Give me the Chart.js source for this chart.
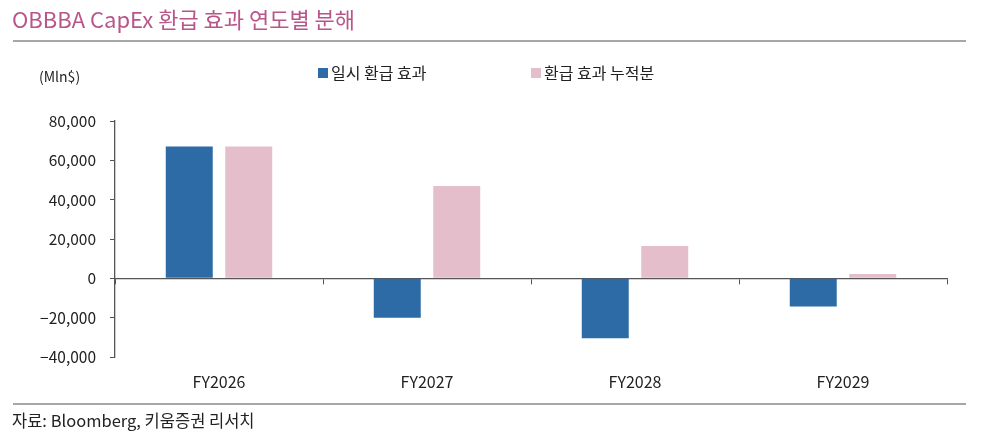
<!DOCTYPE html>
<html>
<head>
<meta charset="utf-8">
<script src="https://cdn.jsdelivr.net/npm/chart.js@4"></script>
<style>
  html, body { margin: 0; padding: 0; background: #fff; }
  #wrap { width: 981px; height: 443px; position: relative; }
</style>
</head>
<body>
<div id="wrap"><canvas id="myChart" width="981" height="443"></canvas></div>
<script>
const categories = ['FY2026', 'FY2027', 'FY2028', 'FY2029']
const oneTimeRefund = [67000, -20000, -30500, -14300]
const cumulativeRefund = [67000, 47000, 16500, 2200]
const yTicks = [-40000, -20000, 0, 20000, 40000, 60000, 80000]

const FONT = '"Noto Sans CJK KR", "Noto Sans", sans-serif'

// title, rules, unit, legend and source drawn around the chart
const decor = {
  id: 'decor',
  afterDraw(chart) {
    const ctx = chart.ctx
    ctx.save()
    ctx.fillStyle = '#b8568a'
    ctx.font = '22px ' + FONT
    ctx.textBaseline = 'middle'
    ctx.textAlign = 'left'
    ctx.fillText('OBBBA CapEx 환급 효과 연도별 분해', 12, 20)

    ctx.strokeStyle = '#8a8a8a'
    ctx.lineWidth = 1.5
    ctx.beginPath(); ctx.moveTo(13, 41); ctx.lineTo(966, 41); ctx.stroke()
    ctx.beginPath(); ctx.moveTo(13, 404); ctx.lineTo(966, 404); ctx.stroke()

    ctx.fillStyle = '#222'
    ctx.font = '14px ' + FONT
    ctx.fillText('(Mln$)', 39, 77)

    const items = [[318, 0], [531, 1]]
    items.forEach(([x, i]) => {
      const ds = chart.data.datasets[i]
      ctx.fillStyle = ds.backgroundColor
      ctx.fillRect(x, 68, 10, 10)
      ctx.fillStyle = '#222'
      ctx.font = '16px ' + FONT
      ctx.fillText(ds.label, x + 13, 73)
    })

    ctx.font = '16.5px ' + FONT
    ctx.fillStyle = '#222'
    ctx.fillText('자료: Bloomberg, 키움증권 리서치', 12, 421)
    ctx.restore()
  }
}

const ctx = document.getElementById('myChart')
new Chart(ctx, {
  type: 'bar',
  data: {
    labels: categories,
    datasets: [{
      label: '일시 환급 효과',
      data: oneTimeRefund,
      backgroundColor: '#2c6ba6',
      xAxisID: 'x'
    }, {
      label: '환급 효과 누적분',
      data: cumulativeRefund,
      backgroundColor: '#e4becb',
      xAxisID: 'x'
    }]
  },
  options: {
    responsive: false,
    animation: false,
    categoryPercentage: 0.572,
    barPercentage: 0.79,
    layout: { padding: { top: 121, right: 34, left: 0, bottom: 0 } },
    plugins: {
      legend: { display: false },
      tooltip: { enabled: false }
    },
    scales: {
      x: {
        position: 'bottom',
        grid: { display: false },
        border: { display: false },
        ticks: { color: '#222', font: { family: FONT, size: 16 }, padding: 7 },
        afterFit(scale) { scale.height = 86 }
      },
      x0: {
        type: 'category',
        position: { y: 0 },
        grid: { display: true, offset: true, drawOnChartArea: false, tickLength: 5, color: '#555', lineWidth: 1 },
        border: { display: true, color: '#555', width: 1.3 },
        ticks: { display: false }
      },
      y: {
        min: -40000,
        max: 80000,
        afterBuildTicks(scale) { scale.ticks = yTicks.map(v => ({ value: v })) },
        grid: { drawOnChartArea: false, tickLength: 5, color: '#555' },
        border: { color: '#555', width: 1.3 },
        ticks: {
          color: '#222',
          padding: 14,
          font: { family: FONT, size: 15.5 },
          callback: v => v < 0 ? '−' + Math.abs(v).toLocaleString('en-US') : v.toLocaleString('en-US')
        },
        afterFit(scale) { scale.width = 115 }
      }
    }
  },
  plugins: [decor]
})
</script>
</body>
</html>
